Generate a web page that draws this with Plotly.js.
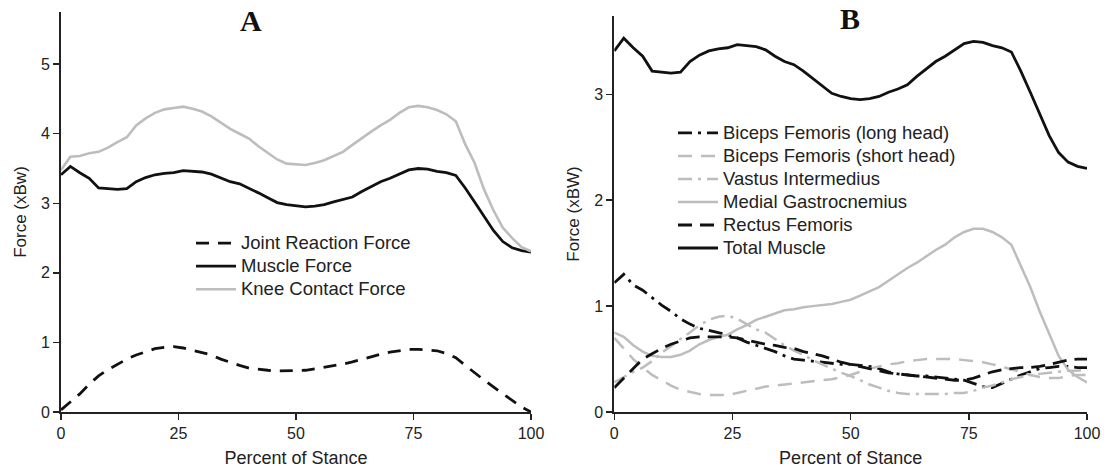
<!DOCTYPE html>
<html><head><meta charset="utf-8">
<script src="https://cdn.plot.ly/plotly-3.0.1.min.js"></script>
<style>body{margin:0;background:#fff}#chart{width:1108px;height:470px}</style>
</head><body><div id="chart"></div>
<script>
// Percent of stance (shared x for all series)
const stance = [0,2,4,6,8,10,12,14,16,18,20,22,24,26,28,30,32,34,36,38,40,42,44,46,48,50,
  52,54,56,58,60,62,64,66,68,70,72,74,76,78,80,82,84,86,88,90,92,94,96,98,100];

// Panel A (xBw)
const jointReaction = [0.03,0.14,0.26,0.40,0.52,0.61,0.69,0.76,0.82,0.87,0.91,0.93,0.94,0.92,0.89,0.86,0.82,0.76,0.71,0.67,0.63,0.61,0.60,0.59,0.59,0.60,
  0.60,0.62,0.64,0.66,0.69,0.72,0.76,0.80,0.83,0.86,0.88,0.90,0.90,0.89,0.88,0.84,0.78,0.67,0.56,0.46,0.36,0.26,0.16,0.07,0.00];
const muscleForce = [3.41,3.53,3.44,3.36,3.22,3.21,3.20,3.21,3.31,3.37,3.41,3.43,3.44,3.47,3.46,3.45,3.42,3.36,3.31,3.28,3.22,3.15,3.08,3.01,2.98,2.96,
  2.95,2.96,2.98,3.02,3.05,3.09,3.17,3.24,3.31,3.36,3.42,3.48,3.50,3.49,3.46,3.44,3.40,3.22,3.02,2.82,2.61,2.45,2.36,2.32,2.30];
const kneeContact = [3.48,3.67,3.68,3.72,3.74,3.80,3.88,3.95,4.12,4.22,4.30,4.35,4.37,4.39,4.36,4.32,4.25,4.16,4.07,4.00,3.93,3.82,3.72,3.63,3.57,3.56,
  3.55,3.58,3.62,3.68,3.74,3.84,3.94,4.03,4.12,4.20,4.30,4.38,4.40,4.38,4.34,4.28,4.18,3.85,3.58,3.20,2.90,2.65,2.50,2.37,2.31];

// Panel B (xBW)
const bicepsLong = [1.22,1.30,1.20,1.15,1.08,1.01,0.95,0.88,0.83,0.79,0.77,0.75,0.73,0.70,0.66,0.63,0.60,0.57,0.53,0.50,0.49,0.48,0.47,0.46,0.45,0.45,
  0.44,0.43,0.41,0.38,0.36,0.35,0.34,0.34,0.33,0.32,0.31,0.30,0.27,0.24,0.23,0.27,0.31,0.35,0.38,0.41,0.42,0.43,0.43,0.42,0.42];
const bicepsShort = [0.70,0.60,0.50,0.42,0.35,0.30,0.25,0.21,0.19,0.17,0.16,0.16,0.16,0.18,0.20,0.22,0.24,0.25,0.26,0.27,0.28,0.29,0.30,0.31,0.33,0.35,
  0.38,0.41,0.43,0.45,0.46,0.48,0.49,0.50,0.50,0.50,0.50,0.49,0.48,0.47,0.45,0.43,0.40,0.38,0.35,0.33,0.32,0.32,0.34,0.35,0.35];
const vastusInt = [0.28,0.33,0.38,0.42,0.48,0.56,0.62,0.69,0.75,0.82,0.87,0.90,0.91,0.88,0.83,0.78,0.75,0.69,0.63,0.58,0.54,0.49,0.45,0.41,0.37,0.34,
  0.30,0.26,0.23,0.20,0.18,0.17,0.17,0.17,0.17,0.17,0.18,0.18,0.20,0.23,0.25,0.28,0.31,0.33,0.35,0.36,0.37,0.38,0.39,0.39,0.40];
const medGastroc = [0.75,0.71,0.63,0.57,0.53,0.52,0.52,0.54,0.58,0.64,0.68,0.71,0.73,0.78,0.82,0.87,0.90,0.93,0.96,0.97,0.99,1.00,1.01,1.02,1.04,1.06,
  1.10,1.14,1.18,1.24,1.30,1.36,1.41,1.47,1.53,1.58,1.65,1.70,1.73,1.73,1.70,1.65,1.58,1.38,1.18,0.95,0.74,0.53,0.40,0.33,0.28];
const rectusFem = [0.23,0.32,0.42,0.50,0.55,0.60,0.64,0.67,0.70,0.71,0.71,0.71,0.71,0.70,0.68,0.66,0.64,0.63,0.61,0.60,0.57,0.55,0.53,0.50,0.47,0.45,
  0.43,0.41,0.39,0.37,0.36,0.35,0.34,0.33,0.32,0.31,0.30,0.30,0.32,0.35,0.38,0.40,0.41,0.42,0.42,0.43,0.45,0.47,0.49,0.50,0.50];
const totalMuscle = muscleForce;

const xTicks = [0,25,50,75,100];
const yTicksA = [0,1,2,3,4,5];
const yTicksB = [0,1,2,3];

const FONT = 'Liberation Sans, Arial, sans-serif';
const BLACK = '#111111', GRAY = '#bdbdbd';

function big(s) { return '<span style="font-size:18.5px">' + s + '</span>'; }

function tr(name, y, color, width, dash, xa, ya, leg) {
  return {x: stance, y: y, name: big(name), type: 'scatter', mode: 'lines',
    line: {color: color, width: width, dash: dash},
    xaxis: xa, yaxis: ya, legend: leg, hoverinfo: 'skip'};
}

const data = [
  tr('Joint Reaction Force', jointReaction, BLACK, 2.8, '13px,9px', 'x', 'y', 'legend'),
  tr('Muscle Force', muscleForce, BLACK, 2.8, 'solid', 'x', 'y', 'legend'),
  tr('Knee Contact Force', kneeContact, GRAY, 2.6, 'solid', 'x', 'y', 'legend'),
  tr('Biceps Femoris (long head)', bicepsLong, BLACK, 2.8, '14px,6px,3px,6px', 'x2', 'y2', 'legend2'),
  tr('Biceps Femoris (short head)', bicepsShort, GRAY, 2.5, '14px,9px', 'x2', 'y2', 'legend2'),
  tr('Vastus Intermedius', vastusInt, GRAY, 2.5, '14px,6px,3px,6px', 'x2', 'y2', 'legend2'),
  tr('Medial Gastrocnemius', medGastroc, GRAY, 2.5, 'solid', 'x2', 'y2', 'legend2'),
  tr('Rectus Femoris', rectusFem, BLACK, 2.8, '14px,8px', 'x2', 'y2', 'legend2'),
  tr('Total Muscle', totalMuscle, BLACK, 2.8, 'solid', 'x2', 'y2', 'legend2')
];

function xaxisCfg(domain, anchor) {
  return {domain: domain, anchor: anchor, range: [0, 100], tickvals: xTicks, ticktext: xTicks.map(String),
    showline: true, linecolor: '#222', linewidth: 2, ticks: 'outside', ticklen: 6, tickwidth: 1.5, tickcolor: '#222',
    showgrid: false, zeroline: false, tickfont: {size: 16, color: '#222', family: FONT},
    title: {text: 'Percent of Stance', font: {size: 18, color: '#222', family: FONT}, standoff: 10}};
}
function yaxisCfg(domain, anchor, range, ticks, title) {
  return {domain: domain, anchor: anchor, range: range, tickvals: ticks, ticktext: ticks.map(String),
    showline: true, linecolor: '#222', linewidth: 2, ticks: 'outside', ticklen: 6, tickwidth: 1.5, tickcolor: '#222',
    showgrid: false, zeroline: false, tickfont: {size: 16, color: '#222', family: FONT},
    title: {text: title, font: {size: 17, color: '#222', family: FONT}, standoff: 10}};
}

const layout = {
  width: 1108, height: 470,
  margin: {l: 61, r: 21, t: 12, b: 58},
  paper_bgcolor: '#fff', plot_bgcolor: '#fff',
  font: {family: FONT, color: '#222'},
  showlegend: true,
  xaxis: xaxisCfg([0, 0.4581], 'y'),
  yaxis: yaxisCfg([0, 1], 'x', [0, 5.75], yTicksA, 'Force (xBw)'),
  xaxis2: xaxisCfg([0.5393, 1], 'y2'),
  yaxis2: yaxisCfg([0, 0.99], 'x2', [0, 3.74], yTicksB, 'Force (xBW)'),
  legend: {x: 0.1267, xanchor: 'left', y: 0.4633, yanchor: 'top', bgcolor: 'rgba(0,0,0,0)',
    font: {size: 15.4, color: '#222', family: FONT}, itemwidth: 40, borderwidth: 0, traceorder: 'normal'},
  legend2: {x: 0.5965, xanchor: 'left', y: 0.739, yanchor: 'top', bgcolor: 'rgba(0,0,0,0)',
    font: {size: 15.4, color: '#222', family: FONT}, itemwidth: 40, borderwidth: 0, traceorder: 'normal'},
  annotations: [
    {text: '<b>A</b>', xref: 'paper', yref: 'paper', x: 0.1852, y: 0.9775, xanchor: 'center', yanchor: 'middle',
      showarrow: false, font: {family: 'Liberation Serif, Times New Roman, serif', size: 30, color: '#111'}},
    {text: '<b>B</b>', xref: 'paper', yref: 'paper', x: 0.7690, y: 0.9825, xanchor: 'center', yanchor: 'middle',
      showarrow: false, font: {family: 'Liberation Serif, Times New Roman, serif', size: 30, color: '#111'}}
  ]
};

Plotly.newPlot('chart', data, layout, {displayModeBar: false, staticPlot: true});
</script>
</body></html>
